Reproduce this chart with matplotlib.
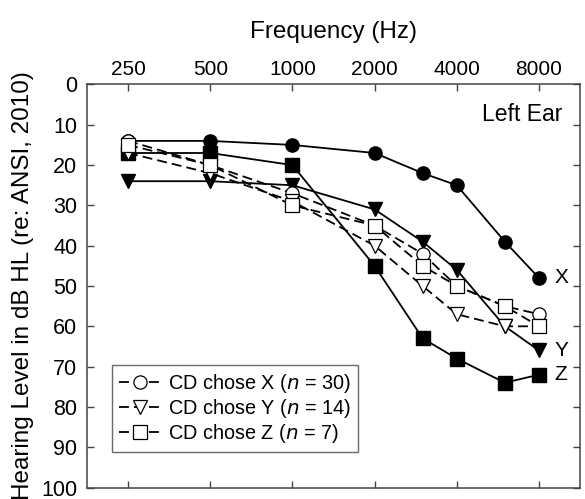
import matplotlib
matplotlib.use("Agg")
import matplotlib.pyplot as plt
import numpy as np

plt.rcParams["font.family"] = ["Liberation Sans", "DejaVu Sans"]

freqs = [250, 500, 1000, 2000, 3000, 4000, 6000, 8000]
tick_freqs = [250, 500, 1000, 2000, 4000, 8000]

# audiometric thresholds (dB HL)
talker_x = [14, 14, 15, 17, 22, 25, 39, 48]
talker_y = [24, 24, 25, 31, 39, 46, 60, 66]
talker_z = [17, 17, 20, 45, 63, 68, 74, 72]
chose_x = [14, 20, 27, 35, 42, 50, 55, 57]
chose_y = [17, 22, 29, 40, 50, 57, 60, 60]
chose_z = [15, 20, 30, 35, 45, 50, 55, 60]

legend_labels = [
    "CD chose X ($n$ = 30)",
    "CD chose Y ($n$ = 14)",
    "CD chose Z ($n$ = 7)",
]

fig = plt.figure(figsize=(5.85, 4.99), dpi=100)
ax = fig.add_axes([0.1487, 0.023, 0.8428, 0.8077])

ms = 9.5
lw = 1.3
for vals, mk, lab in [(talker_x, "o", "X"), (talker_y, "v", "Y"), (talker_z, "s", "Z")]:
    ax.plot(freqs, vals, "-", color="black", lw=lw, marker=mk, ms=ms,
            mfc="black", mec="black", zorder=2)
    ax.annotate(lab, (freqs[-1], vals[-1]), xytext=(11, 0), textcoords="offset points",
                ha="left", va="center", fontsize=15)

handles = []
for vals, mk, lab in [(chose_x, "o", legend_labels[0]), (chose_y, "v", legend_labels[1]),
                      (chose_z, "s", legend_labels[2])]:
    h, = ax.plot(freqs, vals, "--", color="black", lw=lw, marker=mk, ms=ms,
                 mfc="white", mec="black", mew=0.9, dashes=(5.5, 2.8), zorder=3, label=lab)
    handles.append(h)

ax.set_xscale("log")
ax.set_xlim(250 / np.sqrt(2), 8000 * np.sqrt(2))
ax.set_ylim(100, 0)
ax.set_xticks(tick_freqs)
ax.set_xticklabels([str(f) for f in tick_freqs])
ax.minorticks_off()
ax.set_yticks(np.arange(0, 101, 10))

ax.xaxis.set_label_position("top")
ax.xaxis.tick_top()
ax.tick_params(axis="x", which="both", direction="in", top=True, bottom=True,
               labeltop=True, labelbottom=False, length=5, width=1, color="#444444",
               labelsize=15, pad=4)
ax.tick_params(axis="y", direction="in", left=True, right=True, length=5, width=1,
               color="#444444", labelsize=15.5, pad=7)
for sp in ax.spines.values():
    sp.set_color("#444444")
    sp.set_linewidth(1.1)

ax.set_xlabel("Frequency (Hz)", fontsize=17.5, labelpad=16)
ax.set_ylabel("Hearing Level in dB HL (re: ANSI, 2010)", fontsize=17.5, labelpad=5)

ax.text(0.965, 0.925, "Left Ear", transform=ax.transAxes, ha="right", va="center",
        fontsize=16.5)

leg = ax.legend(handles=handles, loc="lower left", bbox_to_anchor=(0.05, 0.088),
                borderaxespad=0, fontsize=14.3, frameon=True, fancybox=False,
                edgecolor="#444444", handlelength=2.2, handletextpad=0.3,
                labelspacing=0.1, borderpad=0.35)
leg.get_frame().set_linewidth(1.0)

fig.savefig("out.png", dpi=100)
